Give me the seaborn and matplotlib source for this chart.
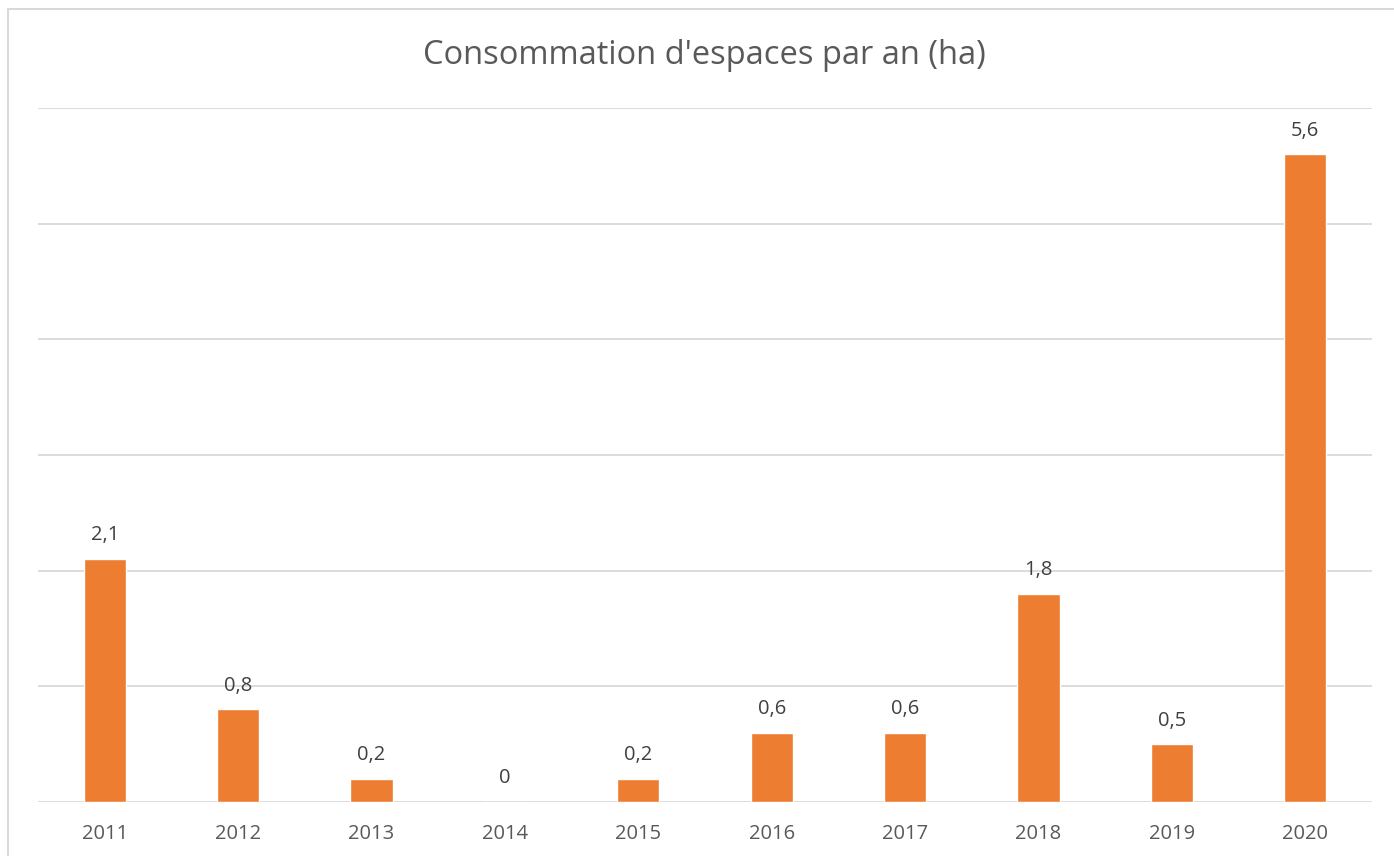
import numpy as np
import pandas as pd
import matplotlib.pyplot as plt
import seaborn as sns
from matplotlib.patches import Rectangle

# données
annees = ['2011', '2012', '2013', '2014', '2015', '2016', '2017', '2018', '2019', '2020']
valeurs = [2.1, 0.8, 0.2, 0.0, 0.2, 0.6, 0.6, 1.8, 0.5, 5.6]
etiquettes = ['2,1', '0,8', '0,2', '0', '0,2', '0,6', '0,6', '1,8', '0,5', '5,6']

sns.set_style('white')
plt.rcParams['font.family'] = ['Open Sans', 'DejaVu Sans']

df = pd.DataFrame({'annee': annees, 'valeur': valeurs})

fig = plt.figure(figsize=(13.94, 8.56), dpi=100)
ax = fig.add_axes([38 / 1394, 54 / 856, 1334 / 1394, 694 / 856])

sns.barplot(data=df, x='annee', y='valeur', color='#ED7D31', width=0.315,
            saturation=1, ax=ax, zorder=3)

ax.set_ylim(0, 6)
ax.set_yticks(np.arange(0, 7, 1))
ax.set_yticklabels([])
ax.tick_params(axis='y', length=0)
ax.tick_params(axis='x', length=0, labelsize=14.5, colors='#595959', pad=16)
ax.grid(axis='y', color='#D9D9D9', linewidth=1.3, zorder=0)
for s in ax.spines.values():
    s.set_visible(False)
ax.set_xlabel('')
ax.set_ylabel('')

# étiquettes de données
for i, (v, t) in enumerate(zip(valeurs, etiquettes)):
    ax.annotate(t, (i, v), xytext=(0, 17), textcoords='offset points',
                ha='center', va='center', fontsize=14.5, color='#404040')

fig.text(704 / 1394, (856 - 55) / 856, "Consommation d'espaces par an (ha)",
         ha='center', va='center', fontsize=23.5, color='#595959')

# cadre du graphique
fig.patches.append(Rectangle((8 / 1394, -0.1), 1.2, (856 - 9) / 856 + 0.1,
                             transform=fig.transFigure, fill=False,
                             edgecolor='#D9D9D9', linewidth=1.5))

fig.savefig('out.png', dpi=100)
